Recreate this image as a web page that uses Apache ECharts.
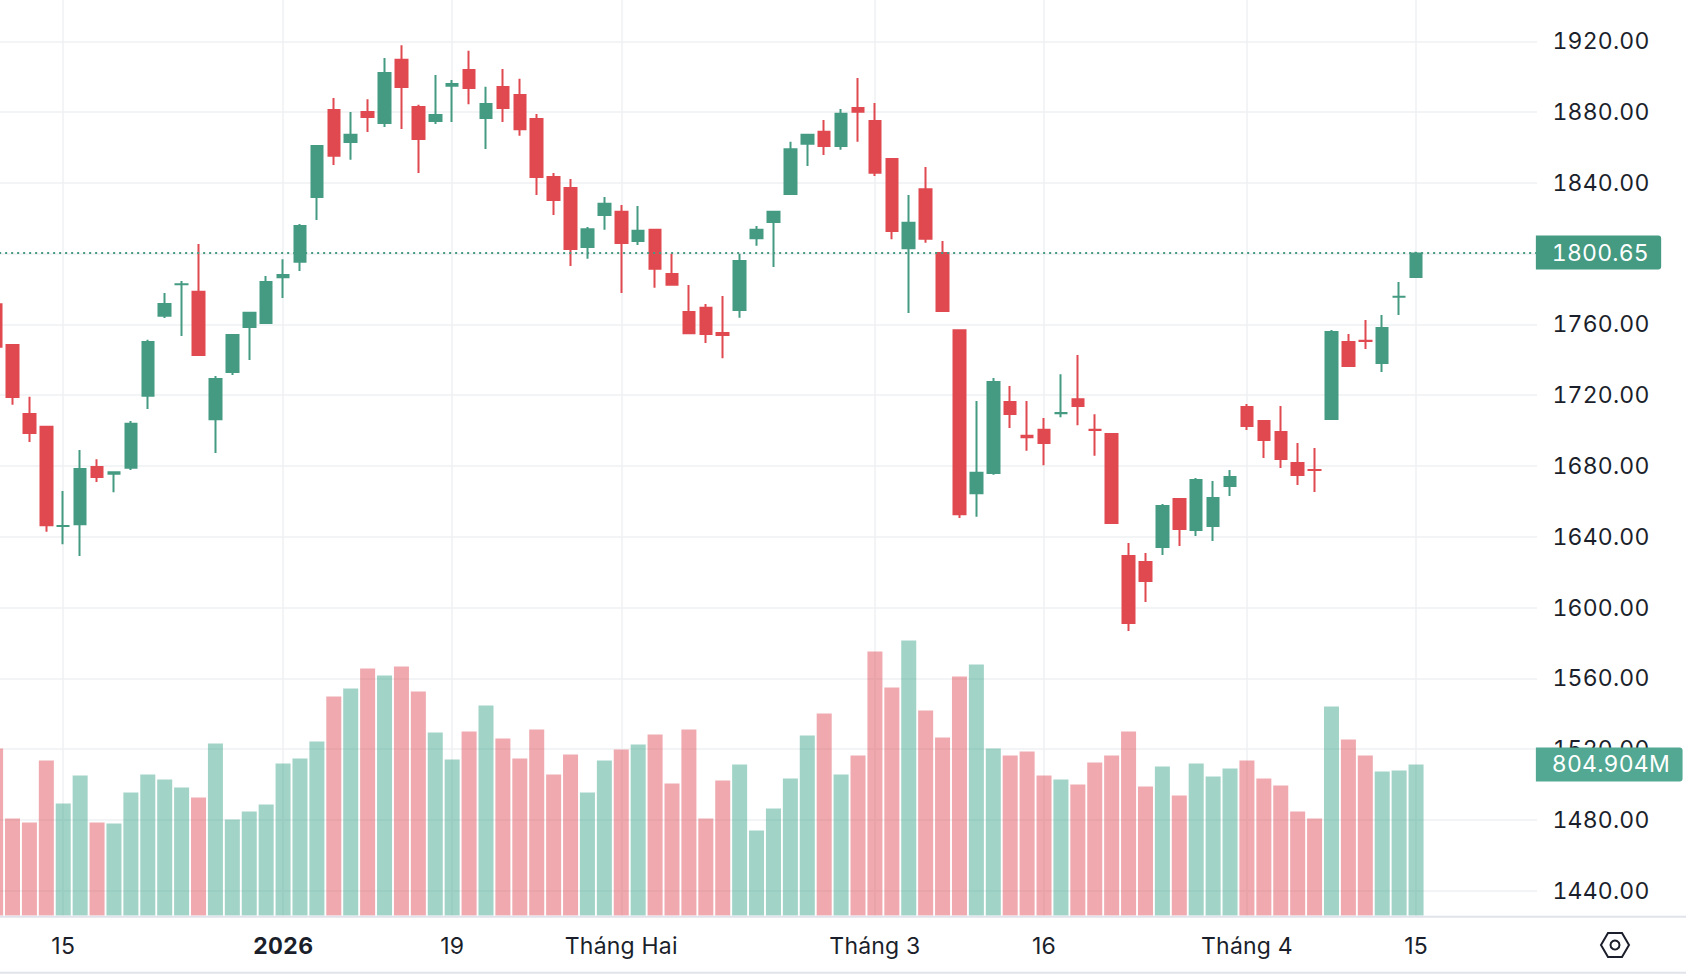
<!DOCTYPE html>
<html><head><meta charset="utf-8">
<style>html,body{margin:0;padding:0;background:#fff}#c{width:1686px;height:974px}
#c text{font-feature-settings:"tnum";letter-spacing:.2px}</style>
<script src="https://cdn.jsdelivr.net/npm/echarts@6/dist/echarts.min.js"></script>
</head><body><div id="c"></div>
<script>
const opens=[1772,1748.9,1710,1702.7,1645.7,1646.6,1680,1675,1678.4,1719.1,
1764.3,1782.2,1779,1705.9,1732.5,1758,1760.2,1786.1,1794.8,1831.5,
1881.7,1862.5,1880.6,1873.3,1910.1,1883.5,1874.4,1894.3,1904.4,1876.1,
1894.7,1890.2,1876.7,1843.9,1837.7,1803.2,1821.3,1824.2,1806.6,1814,
1789,1767.6,1770,1755.7,1767.6,1808.2,1817.3,1833.2,1861.5,1869.4,
1860.3,1882.9,1875.5,1854.1,1802.5,1837,1800.9,1757.3,1664.1,1675.5,
1716.7,1697.6,1701,1709.3,1718.3,1701,1698.6,1629.7,1626.3,1633.7,
1661.9,1643.3,1645.5,1668.1,1713.9,1706,1699.8,1682.3,1678.3,1706,
1750.6,1751.2,1737.6,1775.1,1786.2];
const closes=[1746.8,1718.4,1698.1,1646,1646.5,1678.9,1673.2,1677.1,1704.4,1750.7,
1772.1,1783.3,1742.2,1729.7,1754.6,1767.1,1784.6,1788.5,1816.2,1861.4,
1854.7,1867.7,1876.7,1902.7,1893.6,1864.2,1878.9,1896.4,1893,1885.2,
1881.7,1869.8,1842.8,1829.8,1802.1,1814.4,1828.7,1805.4,1813.5,1790.9,
1781.8,1754.5,1754,1753.5,1796.4,1814,1824.2,1859.6,1867.7,1860.3,
1879.6,1879.6,1845.1,1812.3,1818,1807.8,1767.1,1652.2,1676.7,1728.1,
1708.8,1695.7,1692.4,1710.5,1713.3,1699.8,1647.2,1590.7,1614.4,1658,
1643.8,1672.6,1662.5,1674.3,1702,1694.1,1683.4,1674.3,1677.2,1756.3,
1735.9,1750.2,1758.5,1776.1,1800.65];
const lows=[1746,1714.6,1693.6,1642.8,1635.8,1629.1,1670.9,1665.2,1677.8,1712.2,
1763.6,1753.5,1742.2,1687.3,1731.4,1739.9,1760.2,1774.9,1790.2,1819,
1850.1,1853,1868.7,1871.6,1870.5,1845.6,1873.3,1874.4,1884.5,1859.2,
1874.4,1866.6,1833.1,1821.8,1793,1797.1,1813.5,1777.8,1804.9,1780.7,
1781.8,1754.5,1749.5,1740.9,1763.8,1804.4,1792.5,1833.2,1849.6,1855.8,
1858.7,1863.2,1843.9,1808.2,1766.4,1806.1,1767.1,1650.6,1651.3,1675,
1701.5,1688.6,1680.5,1707.6,1703.1,1685.8,1647.2,1586.8,1603.1,1629.7,
1634.8,1640.4,1637.6,1663,1700.3,1684.5,1678.9,1669.3,1665.3,1706,
1735.9,1746.1,1733.1,1765.3,1786.2];
const highs=[1772.5,1749,1719.1,1702.7,1665.9,1689,1683.8,1677.1,1705.5,1751.3,
1777.7,1784.6,1805.4,1730.8,1754.6,1767.1,1787.4,1796.9,1816.8,1861.4,
1888,1880,1887.3,1910.5,1917.8,1884.1,1901,1898.2,1914.6,1894.3,
1904.4,1898.8,1878.9,1845.6,1842.2,1815.1,1832,1827.5,1827,1814,
1799.9,1782.3,1771.6,1776.1,1799.9,1815.6,1824.2,1863.2,1867.7,1875.5,
1881.7,1899.3,1885.1,1854.1,1833.2,1848.9,1807.1,1757.3,1716.7,1729.8,
1725.2,1716.7,1707.2,1731.9,1742.8,1709.3,1698.6,1636.5,1630.8,1658.5,
1661.9,1673.2,1671.5,1677.7,1715,1706,1713.9,1693,1690.2,1756.8,
1754.6,1762.5,1765.3,1784,1801.1];
const volumes=[890,517,496,826,597,746,496,490,656,752,
725,682,629,917,512,554,592,810,837,928,
1167,1210,1317,1279,1327,1194,975,832,981,1119,
944,837,991,752,858,656,826,885,912,965,
704,991,517,720,805,453,570,730,959,1077,
752,853,1407,1215,1466,1093,949,1274,1338,890,
853,874,746,725,698,816,853,981,688,794,
640,810,741,784,826,730,693,554,517,1114,
938,853,768,773,804.904];
const priceTicks=[1440,1480,1520,1560,1600,1640,1680,1720,1760,1800,1840,1880,1920];
const tickLabels={4:'15',17:'2026',27:'19',37:'Tháng Hai',52:'Tháng 3',62:'16',74:'Tháng 4',84:'15'};
const categories=Array.from({length:92},(_,i)=>String(i));
const lastPrice=1800.65, lastVolume=804.904;

const GREEN='#459a82',RED='#e0494f',VG='rgba(67,167,143,.5)',VR='rgba(223,83,95,.5)';
const FONT='Inter',TXT='#1b1f2b',GRID='#eff0f2';
const isTick=i=>tickLabels[i]!==undefined;
// The 2px candle outline grows each body by 1px on both ends; pull the drawn body in by that much.
const STROKE_INSET=0.56;
const candle=(o,c,l,h)=>{const s=c>=o?1:-1,m=(o+c)/2,half=Math.max(Math.abs(c-o)/2-STROKE_INSET,0.02);return [m-s*half,m+s*half,l,h];};
const chart=echarts.init(document.getElementById('c'),null,{renderer:'svg'});
chart.setOption({
 animation:false,backgroundColor:'#fff',
 textStyle:{fontFamily:FONT},
 grid:{left:-12.855,top:0,width:1555.72,height:915.5,containLabel:false,outerBoundsMode:'none'},
 xAxis:{type:'category',data:categories,boundaryGap:true,
  axisLine:{show:false},axisTick:{show:false,alignWithLabel:true,interval:i=>isTick(i)},
  splitLine:{show:true,alignWithLabel:true,interval:i=>isTick(i),lineStyle:{color:GRID,width:1.5}},
  axisLabel:{interval:i=>isTick(i),margin:19,fontFamily:FONT,fontSize:23,color:TXT,
   formatter:(v)=>{const t=tickLabels[+v];return t==='2026'?'{b|2026}':t;},
   rich:{b:{fontFamily:FONT,fontSize:23,fontWeight:700,color:TXT}}}},
 yAxis:[
  {type:'value',position:'right',min:1426,max:1943.34,
   axisLine:{show:false},axisTick:{show:false,customValues:priceTicks},
   splitLine:{show:true,lineStyle:{color:GRID,width:1.5}},
   axisLabel:{customValues:priceTicks,margin:9.6,align:'left',fontFamily:FONT,fontSize:23,color:TXT,
    padding:[6,0,0,0],formatter:v=>v.toFixed(2)}},
  {type:'value',min:0,max:4880,show:false,splitLine:{show:false}}
 ],
 series:[
  {type:'bar',name:'Volume',yAxisIndex:1,barWidth:15,z:1,silent:true,
   data:volumes.map((v,i)=>({value:v,itemStyle:{color:closes[i]>=opens[i]?VG:VR}})),
   markLine:{silent:true,symbol:'none',animation:false,z:6,
    data:[{yAxis:lastVolume}],lineStyle:{color:'transparent',width:0},
    label:{show:true,position:'end',distance:-7,formatter:()=>lastVolume+'M',
     fontFamily:FONT,fontSize:23,color:'#fff',backgroundColor:'#52a892',
     padding:[7,17,4,16],borderRadius:[0,3,3,0]}}},
  {type:'candlestick',name:'Price',z:3,silent:true,barWidth:12,
   itemStyle:{color:GREEN,color0:RED,borderColor:GREEN,borderColor0:RED,borderWidth:2},
   data:opens.map((o,i)=>candle(o,closes[i],lows[i],highs[i])),
   markLine:{silent:true,symbol:'none',animation:false,z:5,
    data:[{yAxis:lastPrice}],lineStyle:{color:GREEN,width:2,type:[2,4]},
    label:{show:true,position:'end',distance:-7,formatter:()=>lastPrice.toFixed(2),
     fontFamily:FONT,fontSize:23,color:'#fff',backgroundColor:GREEN,
     padding:[7,23,4,16],borderRadius:[0,3,3,0]}}}
 ],
 graphic:[
  {type:'rect',z:1,silent:true,shape:{x:1537,y:0,width:8,height:916},style:{fill:'#fff'}},
  {type:'line',z:4,silent:true,shape:{x1:0,y1:916.7,x2:1686,y2:916.7},style:{stroke:'#e0e3eb',lineWidth:2}},
  {type:'line',z:4,silent:true,shape:{x1:0,y1:972.7,x2:1686,y2:972.7},style:{stroke:'#e0e3eb',lineWidth:2}},
  {type:'polygon',z:4,silent:true,shape:{points:[[1601,945],[1608,933],[1622,933],[1629,945],[1622,957],[1608,957]]},style:{fill:'none',stroke:TXT,lineWidth:2}},
  {type:'circle',z:4,silent:true,shape:{cx:1615,cy:945,r:4.5},style:{fill:'none',stroke:TXT,lineWidth:2}}
 ]
});
</script></body></html>
